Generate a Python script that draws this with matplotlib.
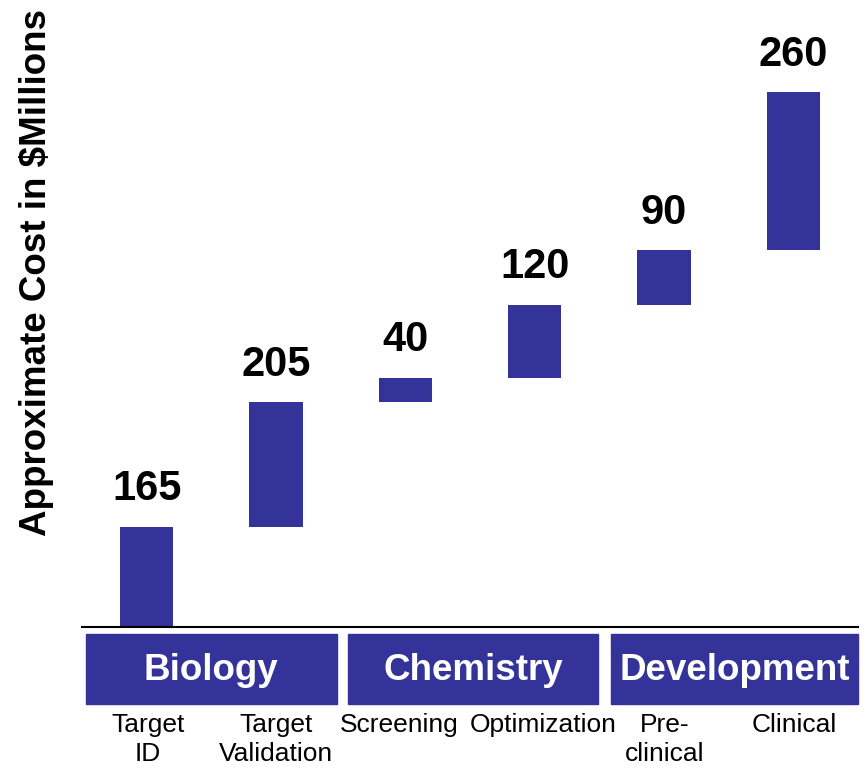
import matplotlib
matplotlib.use("Agg")
import matplotlib.pyplot as plt
from matplotlib.patches import Rectangle
import numpy as np

plt.rcParams["font.family"] = ["Liberation Sans", "DejaVu Sans"]

# stages and their costs ($M)
stages = ["Target\nID", "Target\nValidation", "Screening", "Optimization", "Pre-\nclinical", "Clinical"]
costs = [165, 205, 40, 120, 90, 260]

# phase bands: name, first stage index, last stage index
groups = ["Biology", "Chemistry", "Development"]
group_first = [0, 2, 4]
group_last = [1, 3, 5]

BAR_COLOR = "#333399"

fig = plt.figure(figsize=(8.66, 7.68), dpi=100, facecolor="white")
W, H = 866, 768
SLOT = (858 - 82) / 6  # pixels per category

# main waterfall axes (pixel layout)
ax = fig.add_axes([82 / W, (H - 627) / H, (858 - 82) / W, 608 / H])
x = np.arange(len(stages))
bottoms = np.concatenate([[0], np.cumsum(costs)[:-1]])
bars = ax.bar(x, costs, bottom=bottoms, width=0.41, color=BAR_COLOR)

for xi, b, c in zip(x, bottoms, costs):
    ax.annotate(str(c), xy=(xi, b + c), xytext=(0, 19), textcoords="offset points",
                ha="center", va="baseline", fontsize=30, fontweight="bold", color="black")

ax.set_xlim(-0.5, len(stages) - 0.5)
ax.set_ylim(0, 1000)
ax.set_xticks([])
ax.set_yticks([])
for side in ["top", "right", "left"]:
    ax.spines[side].set_visible(False)
ax.spines["bottom"].set_linewidth(1.5)
ax.spines["bottom"].set_color("black")

fig.text(37 / W, (H - 272) / H, "Approximate Cost in $Millions", rotation=90,
         ha="center", va="center", fontsize=26.5, fontweight="bold")

# phase band below the axis
band = fig.add_axes([82 / W, (H - 704) / H, (858 - 82) / W, 70 / H], sharex=ax)
band.set_ylim(0, 1)
band.axis("off")
inset_l = [0.03, 0.06, 0.09]
inset_r = [0.03, 0.01, 0.0]
for name, g0, g1, il, ir in zip(groups, group_first, group_last, inset_l, inset_r):
    left = g0 - 0.5 + il
    right = g1 + 0.5 - ir
    band.add_patch(Rectangle((left, 0), right - left, 1, color=BAR_COLOR, clip_on=False))
    band.text((left + right) / 2, 0.48, name, ha="center", va="center",
              fontsize=26.5, fontweight="bold", color="white")

# small nudges so neighbouring labels don't touch (pixels)
label_dx = [1, 0, -6, 9, 1, 1]
for xi, lab, dx in zip(x, stages, label_dx):
    band.text(xi + dx / SLOT, -0.13, lab, ha="center", va="top", fontsize=19, color="black",
              linespacing=1.25)

fig.savefig("out.png", dpi=100, facecolor="white")
